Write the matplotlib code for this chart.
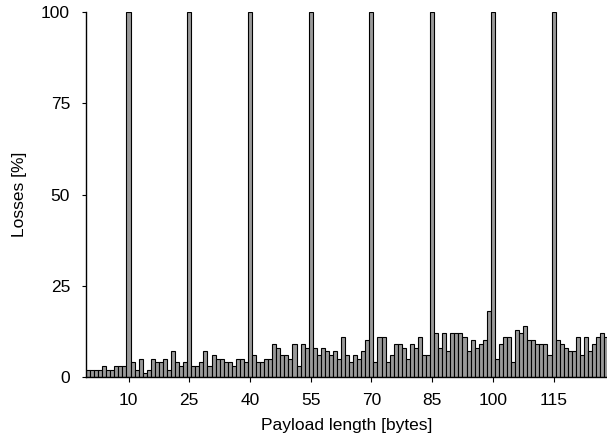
import matplotlib
matplotlib.use("Agg")
import matplotlib.pyplot as plt

# losses per payload length (bytes 0..128)
payload = list(range(0, 129))
losses = [
    2, 2, 2, 2, 3, 2, 2, 3, 3, 3,          # 0-9
    100, 4, 2, 5, 1, 2, 5, 4, 4, 5,        # 10-19
    2, 7, 4, 3, 4, 100, 3, 3, 4, 7,        # 20-29
    3, 6, 5, 5, 4, 4, 3, 5, 5, 4,          # 30-39
    100, 6, 4, 4, 5, 5, 9, 8, 6, 6,        # 40-49
    5, 9, 3, 9, 8, 100, 8, 6, 8, 7,        # 50-59
    6, 7, 5, 11, 6, 4, 6, 5, 7, 10,        # 60-69
    100, 4, 11, 11, 4, 6, 9, 9, 8, 5,      # 70-79
    9, 8, 11, 6, 6, 100, 12, 8, 12, 7,     # 80-89
    12, 12, 12, 11, 7, 10, 8, 9, 10, 18,   # 90-99
    100, 5, 9, 11, 11, 4, 13, 12, 14, 10,  # 100-109
    10, 9, 9, 9, 6, 100, 10, 9, 8, 7,      # 110-119
    7, 11, 6, 11, 7, 9, 11, 12, 11,        # 120-128
]
xticks = [10, 25, 40, 55, 70, 85, 100, 115]
yticks = [0, 25, 50, 75, 100]

plt.rcParams['font.family'] = ['Liberation Sans', 'DejaVu Sans']

fig = plt.figure(figsize=(6.07, 4.40), dpi=100)
ax = fig.add_axes([0.1417, 0.1432, 0.8583, 0.8295])

ax.bar(payload, losses, width=1.0, color="#999999", edgecolor="black", linewidth=0.8)

ax.set_xlim(-0.5, 128.2)
ax.set_ylim(0, 100)
ax.set_xticks(xticks)
ax.set_yticks(yticks)
ax.tick_params(axis="x", direction="out", length=3.5, width=0.8, labelsize=12.5, pad=8)
ax.tick_params(axis="y", direction="out", length=3, width=0.8, labelsize=12.5, pad=8.5)

for side in ["top", "right"]:
    ax.spines[side].set_visible(False)
for side in ["left", "bottom"]:
    ax.spines[side].set_linewidth(1.0)

ax.set_xlabel("Payload length [bytes]", fontsize=12.5, labelpad=7)
ax.set_ylabel("Losses [%]", fontsize=12.5, labelpad=10)

fig.savefig("out.png", dpi=100)
